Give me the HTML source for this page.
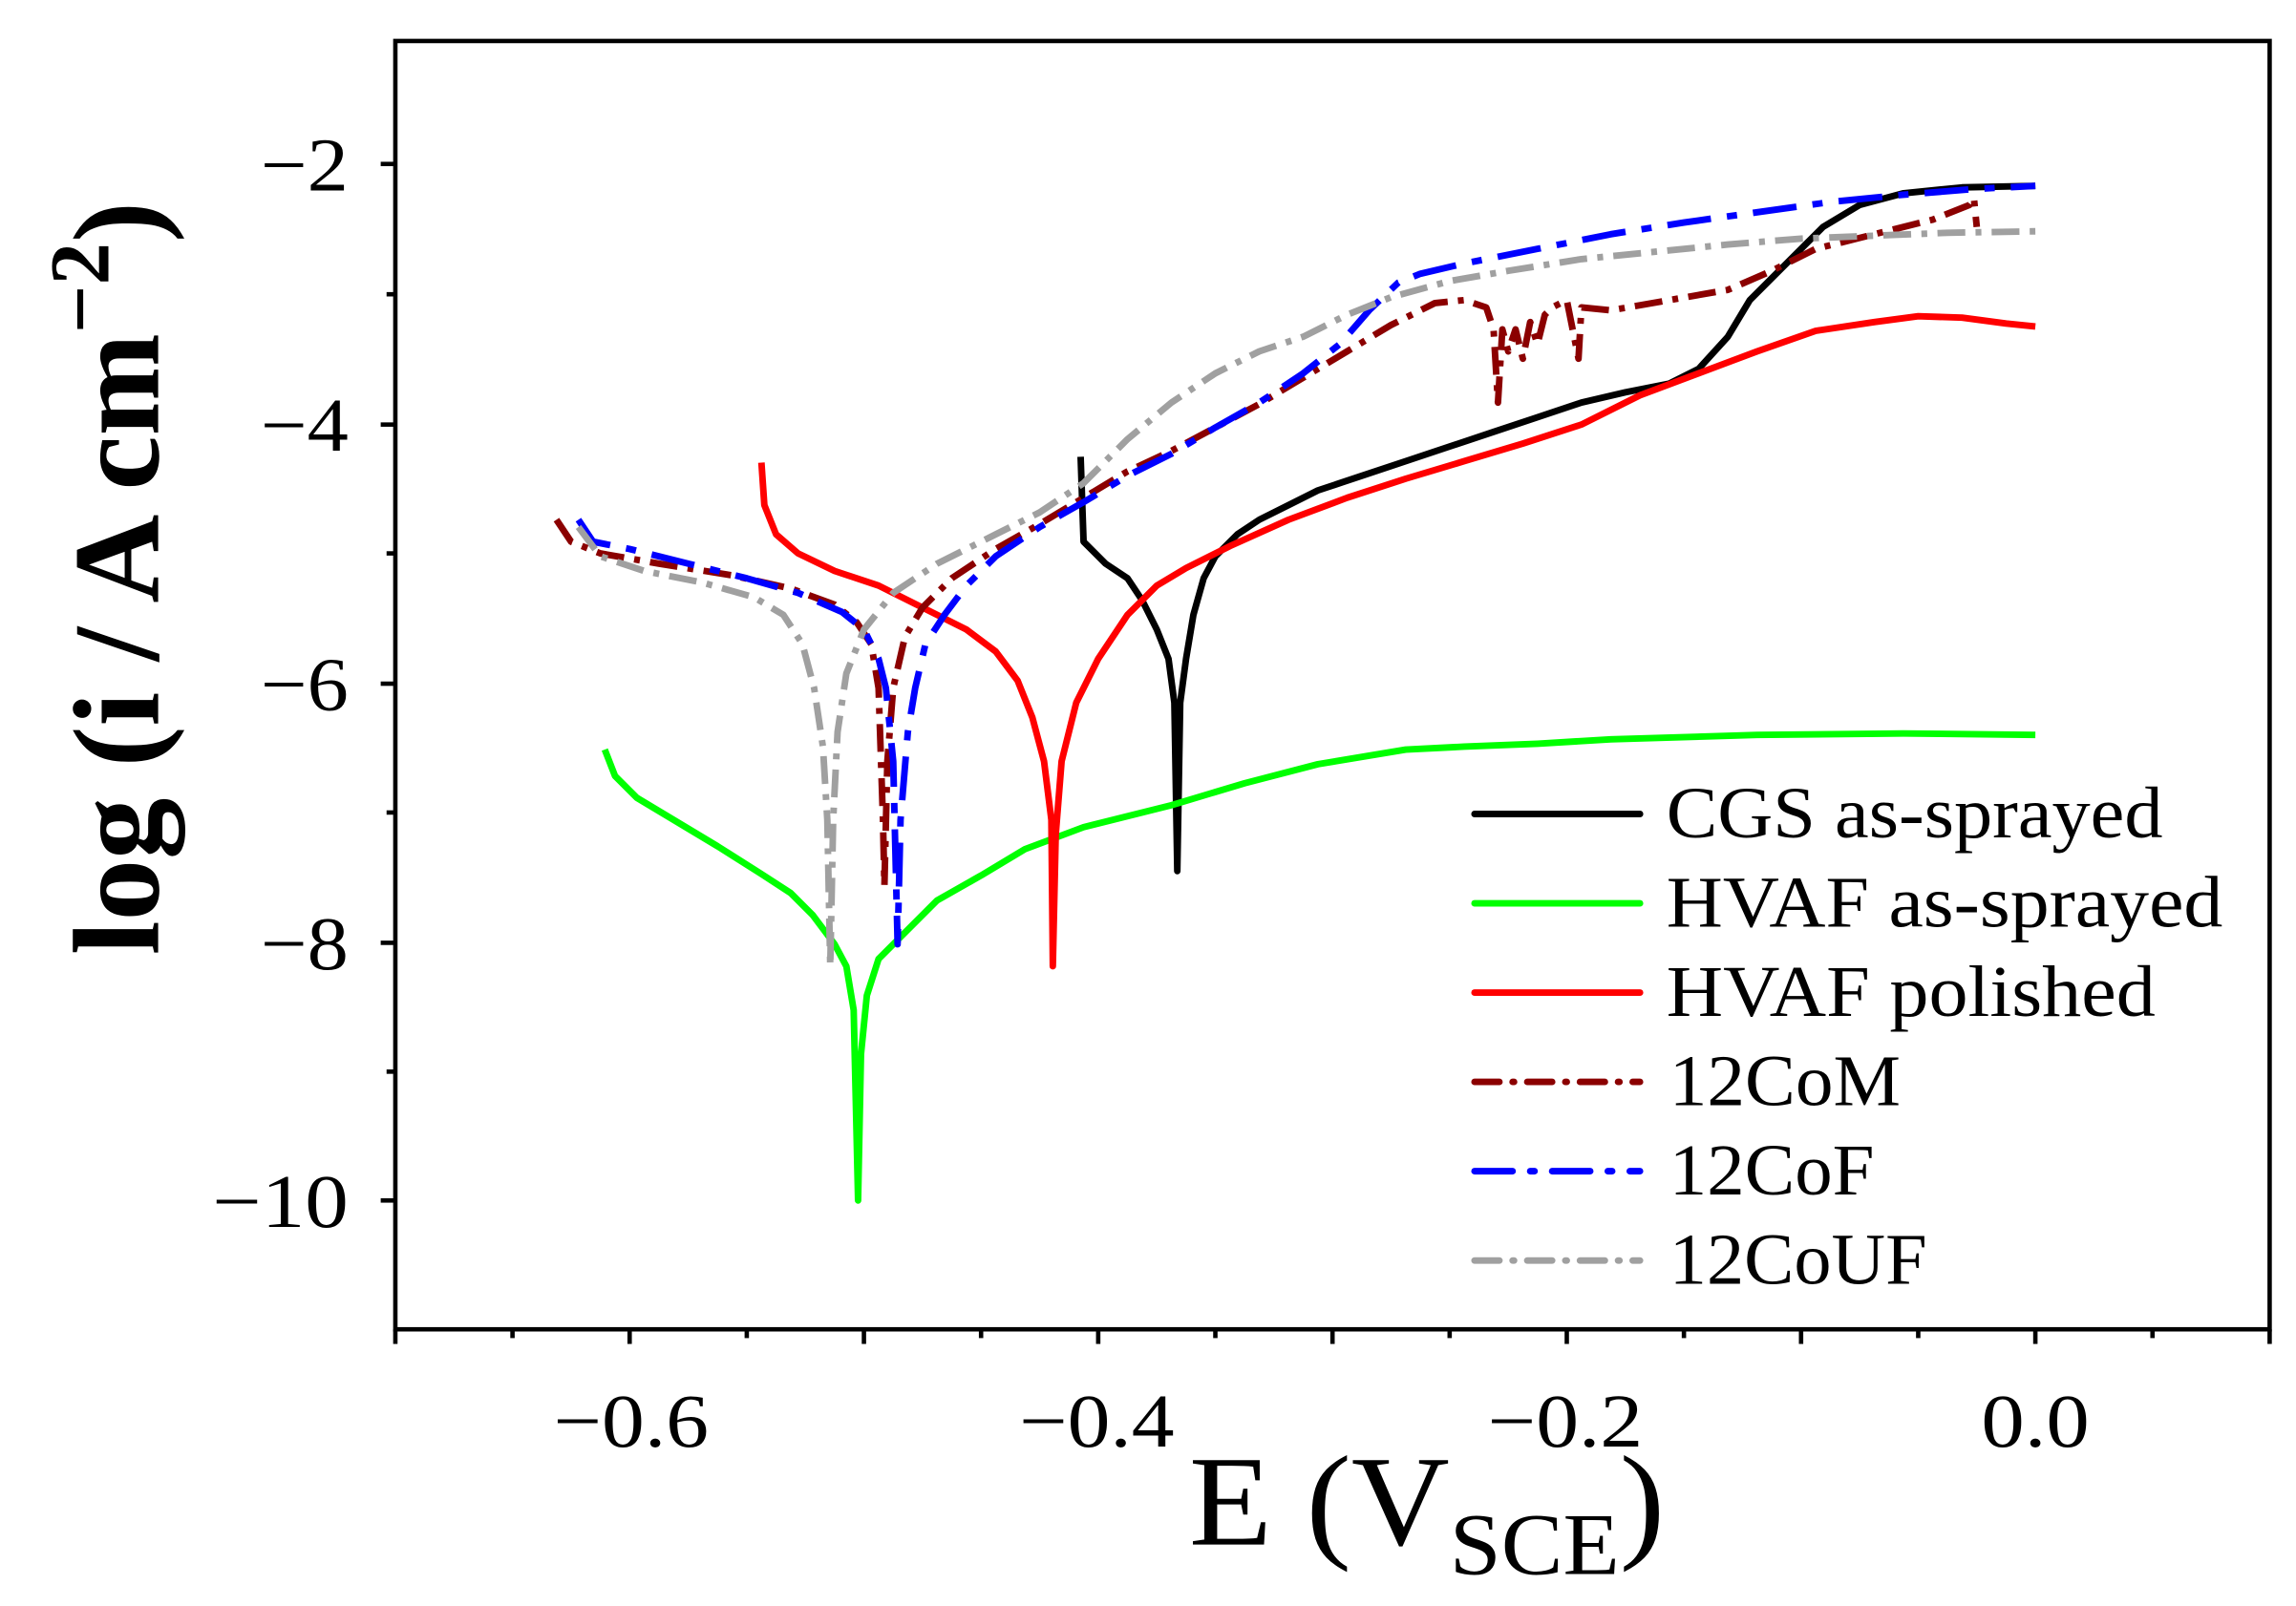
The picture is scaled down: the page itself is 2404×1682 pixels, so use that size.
<!DOCTYPE html>
<html><head><meta charset="utf-8"><style>html,body{margin:0;padding:0;background:#fff}svg{display:block}</style></head>
<body>
<svg width="2404" height="1682" viewBox="0 0 1568 1097" preserveAspectRatio="none" xmlns="http://www.w3.org/2000/svg" font-family="'Liberation Serif', serif">
<rect x="0" y="0" width="1568" height="1097" fill="#fff"/>
<g fill="none" stroke-linejoin="round" stroke-width="4.5">
<polyline stroke="#000" points="738,312 740,370 755,385 770,395 780,410 790,430 798,450 802,480 804,595 806,480 810,450 815,420 822,395 830,380 845,365 860,355 880,345 900,335 930,325 960,315 990,305 1020,295 1050,285 1080,275 1110,268 1140,262 1160,252 1180,230 1195,205 1210,190 1225,175 1245,155 1270,140 1300,132 1340,128 1390,127"/>
<polyline stroke="#00ff00" points="413,512 420,530 435,545 460,560 490,578 520,597 540,610 555,625 570,645 578,660 583,690 586,820 588,720 592,680 600,655 615,640 640,615 670,598 700,580 740,565 800,550 850,535 900,522 960,512 1000,510 1050,508 1100,505 1200,502 1300,501 1390,502"/>
<polyline stroke="#ff0000" points="520,316 522,345 530,365 545,378 570,390 600,400 630,415 660,430 680,445 695,465 705,490 713,520 718,560 719,660 721,570 725,520 735,480 750,450 770,420 790,400 810,388 840,373 880,355 920,340 960,327 1000,315 1040,303 1080,290 1120,270 1160,255 1200,240 1240,226 1280,220 1310,216 1340,217 1370,221 1390,223"/>
<polyline stroke="#8b0000" stroke-dasharray="19 7 4 7" points="380,355 390,370 410,378 450,385 500,393 540,402 570,413 585,425 595,440 600,470 603,560 604,605 606,520 610,470 618,435 630,415 650,395 680,375 710,358 740,340 770,322 800,308 830,292 860,276 890,258 920,240 950,222 980,207 1000,205 1015,210 1020,225 1023,275 1026,225 1030,240 1035,225 1040,245 1045,220 1050,235 1055,215 1060,210 1070,205 1078,245 1080,210 1100,212 1140,205 1180,198 1210,185 1240,170 1280,160 1320,150 1345,140 1348,135 1350,155"/>
<polyline stroke="#0000ff" stroke-dasharray="30 11 7 11" points="395,355 405,370 430,375 470,385 510,395 545,405 575,418 590,430 600,450 605,470 610,520 613,645 615,560 620,500 625,470 632,440 645,420 660,400 680,380 710,360 740,343 770,325 800,310 830,292 860,275 890,255 915,235 935,212 955,193 970,187 1000,180 1050,170 1100,160 1150,152 1200,145 1250,138 1300,133 1350,129 1390,127"/>
<polyline stroke="#a0a0a0" stroke-dasharray="19 7 4 7" points="395,360 410,380 440,390 480,398 515,408 535,420 548,440 556,470 562,510 565,560 567,660 569,560 572,500 578,460 590,430 610,405 640,385 680,365 710,350 740,330 770,300 800,275 830,255 860,240 890,230 920,215 950,203 990,192 1030,185 1080,177 1130,172 1180,167 1230,163 1280,161 1330,159 1390,158"/>
</g>
<rect x="270" y="28" width="1280" height="880" fill="none" stroke="#000" stroke-width="3"/>
<g stroke="#000" stroke-width="3">
<line x1="270" y1="908" x2="270" y2="918"/><line x1="350" y1="908" x2="350" y2="914"/><line x1="430" y1="908" x2="430" y2="918"/><line x1="510" y1="908" x2="510" y2="914"/><line x1="590" y1="908" x2="590" y2="918"/><line x1="670" y1="908" x2="670" y2="914"/><line x1="750" y1="908" x2="750" y2="918"/><line x1="830" y1="908" x2="830" y2="914"/><line x1="910" y1="908" x2="910" y2="918"/><line x1="990" y1="908" x2="990" y2="914"/><line x1="1070" y1="908" x2="1070" y2="918"/><line x1="1150" y1="908" x2="1150" y2="914"/><line x1="1230" y1="908" x2="1230" y2="918"/><line x1="1310" y1="908" x2="1310" y2="914"/><line x1="1390" y1="908" x2="1390" y2="918"/><line x1="1470" y1="908" x2="1470" y2="914"/><line x1="1550" y1="908" x2="1550" y2="918"/>
<line x1="260" y1="112" x2="270" y2="112"/><line x1="264" y1="201" x2="270" y2="201"/><line x1="260" y1="290" x2="270" y2="290"/><line x1="264" y1="378" x2="270" y2="378"/><line x1="260" y1="467" x2="270" y2="467"/><line x1="264" y1="555" x2="270" y2="555"/><line x1="260" y1="644" x2="270" y2="644"/><line x1="264" y1="732" x2="270" y2="732"/><line x1="260" y1="820" x2="270" y2="820"/>
</g>
<g font-size="52" fill="#000">
<text x="178" y="130" textLength="60" lengthAdjust="spacingAndGlyphs">−2</text>
<text x="178" y="308" textLength="60" lengthAdjust="spacingAndGlyphs">−4</text>
<text x="178" y="485" textLength="60" lengthAdjust="spacingAndGlyphs">−6</text>
<text x="178" y="662" textLength="60" lengthAdjust="spacingAndGlyphs">−8</text>
<text x="145" y="838" textLength="93" lengthAdjust="spacingAndGlyphs">−10</text>
</g>
<g font-size="52" fill="#000">
<text x="378" y="988" textLength="106" lengthAdjust="spacingAndGlyphs">−0.6</text>
<text x="696" y="988" textLength="106" lengthAdjust="spacingAndGlyphs">−0.4</text>
<text x="1016" y="988" textLength="106" lengthAdjust="spacingAndGlyphs">−0.2</text>
<text x="1353" y="988" textLength="74" lengthAdjust="spacingAndGlyphs">0.0</text>
</g>
<text x="812" y="1055" font-size="88" textLength="325" lengthAdjust="spacingAndGlyphs">E (V<tspan font-size="60" dy="20">SCE</tspan><tspan dy="-20">)</tspan></text>
<text transform="translate(108,395) rotate(-90)" font-size="84" font-weight="bold" text-anchor="middle">log (i / A cm<tspan font-size="58" dy="-34">−2</tspan><tspan dy="34">)</tspan></text>
<g stroke-width="4.5" stroke-linecap="round">
<line x1="1007" y1="556" x2="1120" y2="556" stroke="#000"/>
<line x1="1007" y1="617" x2="1120" y2="617" stroke="#00ff00"/>
<line x1="1007" y1="678" x2="1120" y2="678" stroke="#ff0000"/>
<line x1="1007" y1="739" x2="1120" y2="739" stroke="#8b0000" stroke-dasharray="17 9 1 9"/>
<line x1="1007" y1="800" x2="1120" y2="800" stroke="#0000ff" stroke-dasharray="26 12 3 12"/>
<line x1="1007" y1="861" x2="1120" y2="861" stroke="#a0a0a0" stroke-dasharray="17 9 1 9"/>
</g>
<g font-size="50" fill="#000">
<text x="1138" y="572" textLength="339" lengthAdjust="spacingAndGlyphs">CGS as-sprayed</text>
<text x="1138" y="633" textLength="380" lengthAdjust="spacingAndGlyphs">HVAF as-sprayed</text>
<text x="1138" y="694" textLength="334" lengthAdjust="spacingAndGlyphs">HVAF polished</text>
<text x="1140" y="755" textLength="158" lengthAdjust="spacingAndGlyphs">12CoM</text>
<text x="1140" y="816" textLength="140" lengthAdjust="spacingAndGlyphs">12CoF</text>
<text x="1140" y="877" textLength="176" lengthAdjust="spacingAndGlyphs">12CoUF</text>
</g>
</svg>
</body></html>
